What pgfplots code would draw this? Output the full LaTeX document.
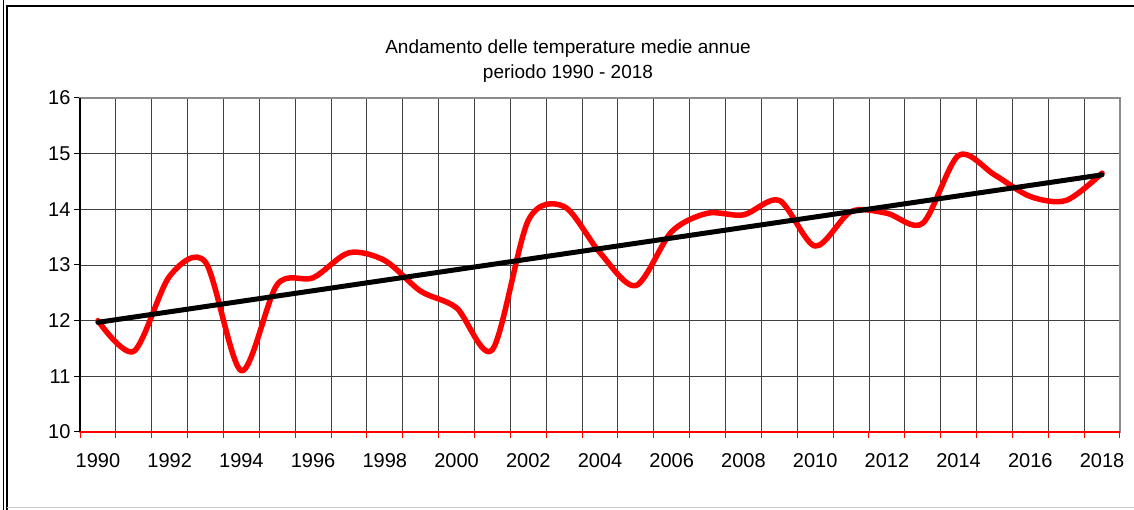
\documentclass[border=0pt]{standalone}
\usepackage{pgfplots}
\pgfplotsset{compat=1.18}
\usepackage{pgfplotstable}
\usepackage{fontspec}
\setmainfont{Liberation Sans}

\pgfplotstableread{
i T
0 12.00
1 11.45
2 12.80
3 13.05
4 11.10
5 12.65
6 12.77
7 13.22
8 13.08
9 12.53
10 12.23
11 11.48
12 13.80
13 14.05
14 13.22
15 12.63
16 13.60
17 13.93
18 13.90
19 14.16
20 13.34
21 13.96
22 13.93
23 13.75
24 14.97
25 14.62
26 14.23
27 14.16
28 14.65
}\temps

\pgfplotstableread{
i T
0 11.97
28 14.62
}\trend

\begin{document}
\begin{tikzpicture}
\useasboundingbox (0,0) rectangle (1134pt,510pt);
\begin{axis}[
  at={(80pt,78pt)}, anchor=south west,
  scale only axis, width=1040pt, height=334pt,
  xmin=-0.5, xmax=28.5, ymin=10, ymax=16,
  xtick={0,2,...,28},
  xticklabels={1990,1992,1994,1996,1998,2000,2002,2004,2006,2008,2010,2012,2014,2016,2018},
  minor xtick={-0.5,0.5,...,28.5},
  ytick={10,11,...,16},
  xtick pos=bottom, ytick pos=left,
  xminorgrids=true, ymajorgrids=true, xmajorgrids=false,
  grid style={black!75, line width=0.9pt},
  minor grid style={black!75, line width=0.9pt},
  major grid style={black!75, line width=0.9pt},
  tick align=outside,
  major tick length=6pt, minor tick length=6pt,
  major x tick style={draw=none},
  minor x tick style={red, line width=1pt},
  major y tick style={black, line width=1pt},
  axis line style={draw=black!45, line width=2pt},
  /pgf/number format/assume math mode=true,
  ticklabel style={font=\fontsize{20}{24}\selectfont},
  xticklabel style={anchor=base, yshift=-30pt},
  yticklabel style={anchor=east},
  clip=false,
]
\addplot[red, line width=5.5pt, smooth, tension=0.5, line cap=round, line join=round] table[x=i, y=T] {\temps};
\addplot[black, line width=5pt, line cap=round] table[x=i, y=T] {\trend};
\draw[black, line width=2pt] (rel axis cs:0,0) -- (rel axis cs:0,1);
\draw[red, line width=1.5pt] (rel axis cs:0,0) -- (rel axis cs:1,0);
\end{axis}
\node[anchor=base, font=\fontsize{19}{23}\selectfont] at (568pt,456.7pt) {Andamento delle temperature medie annue};
\node[anchor=base, font=\fontsize{19}{23}\selectfont] at (568pt,431pt) {periodo 1990 - 2018};
\draw[black, line width=1pt] (3pt,0) -- (3pt,510pt);
\draw[black, line width=1.2pt] (7pt,0) -- (7pt,504pt) -- (1134pt,504pt);
\draw[black!20, line width=1pt] (7pt,2pt) -- (1134pt,2pt);
\end{tikzpicture}
\end{document}
